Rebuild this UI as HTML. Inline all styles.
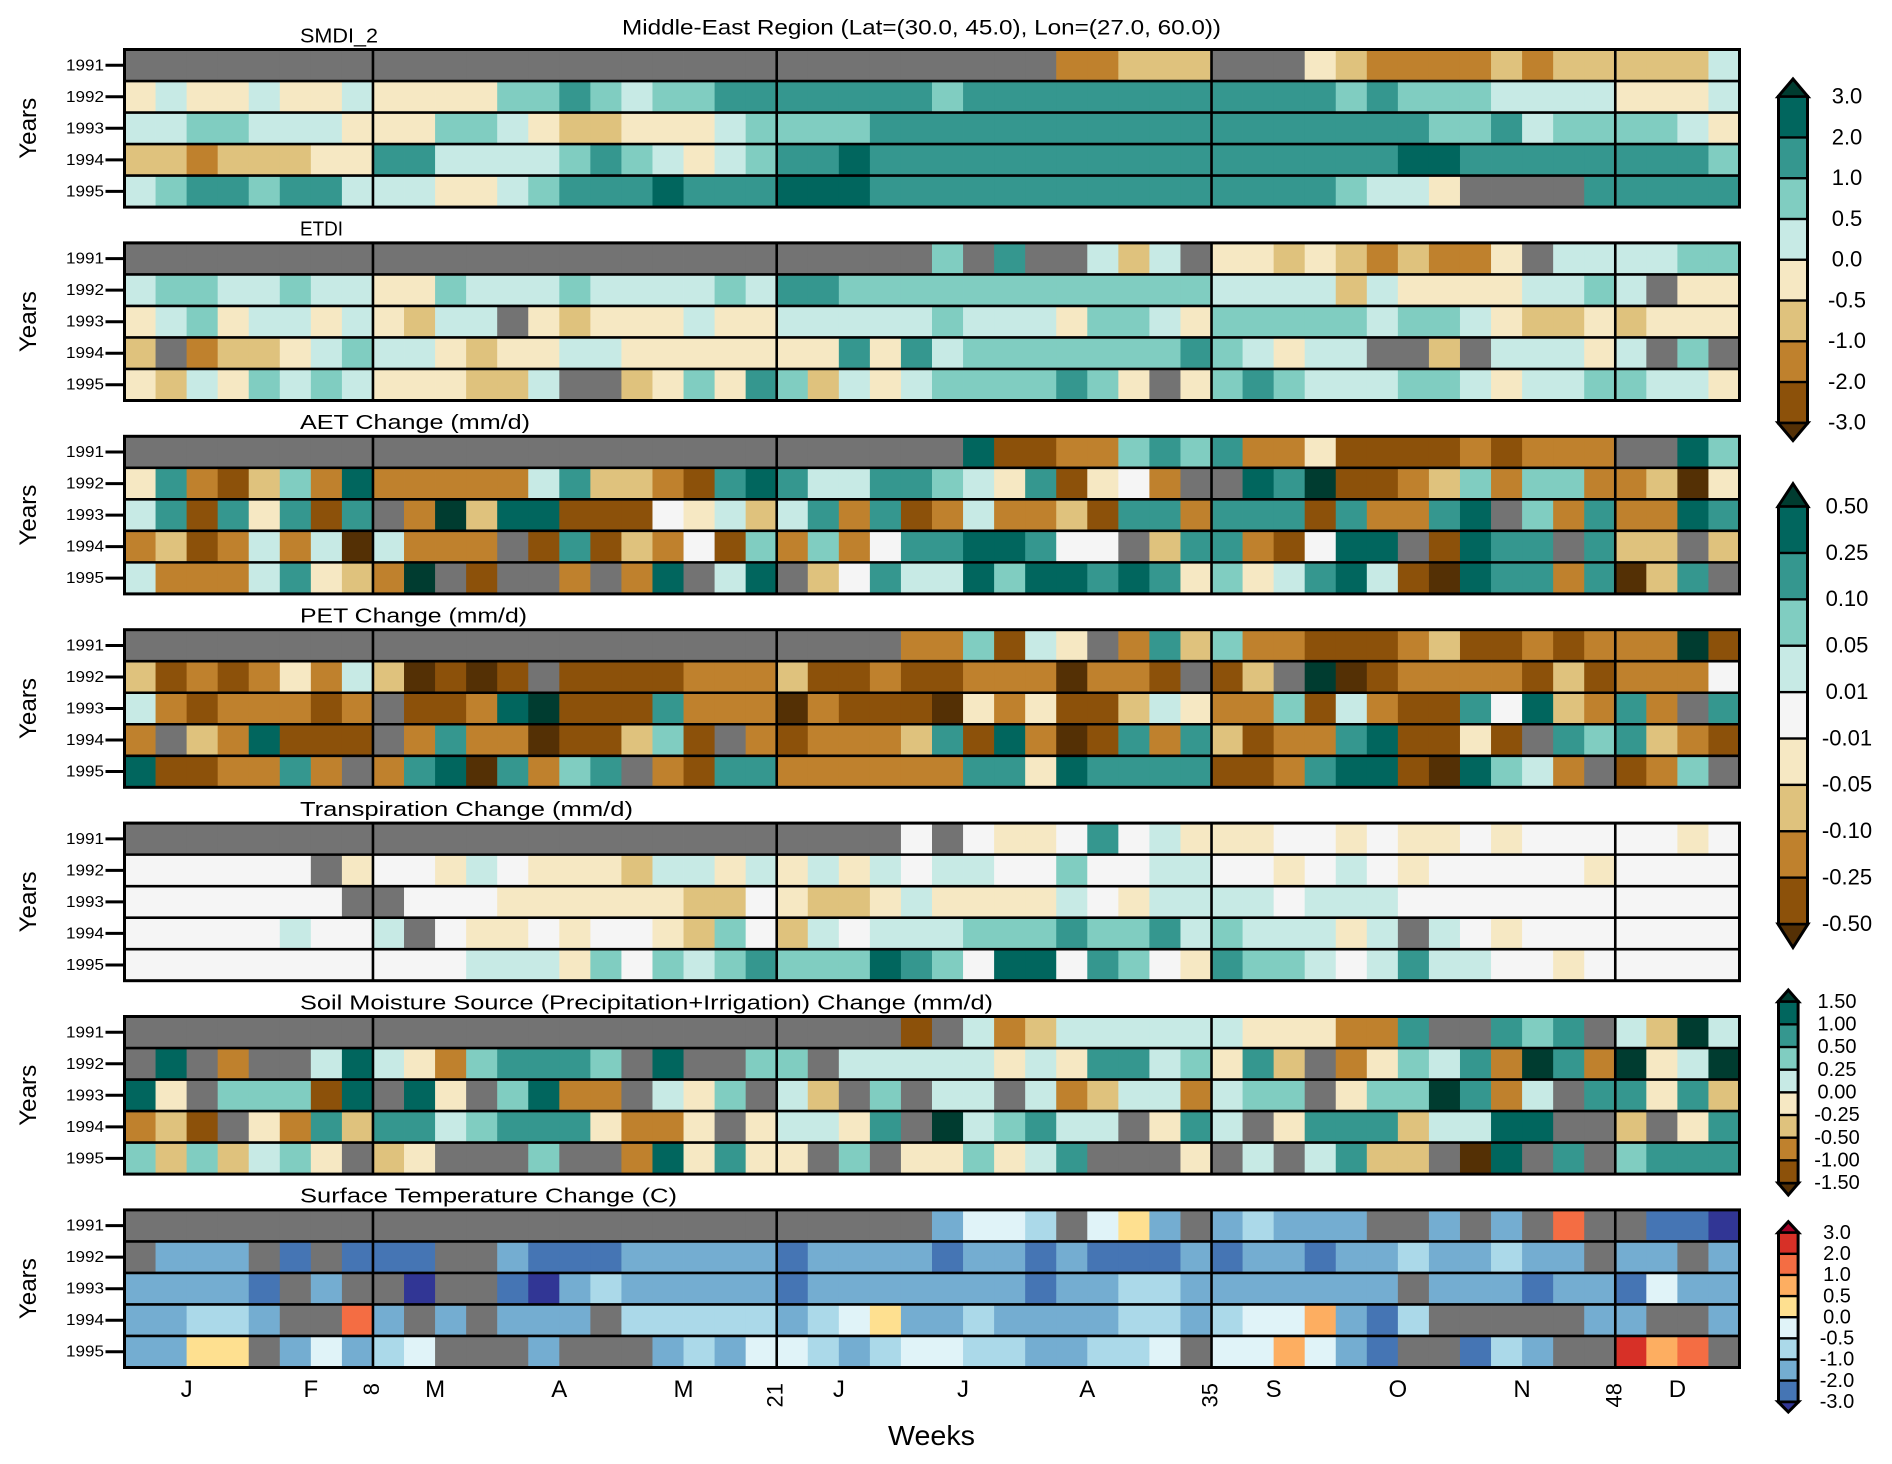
<!DOCTYPE html>
<html>
<head>
<meta charset="utf-8">
<title>Middle-East Region</title>
<style>
html,body{margin:0;padding:0;background:#fff}
svg{display:block}
text{font-family:"Liberation Sans",sans-serif;fill:#000}
</style>
</head>
<body>
<svg id="chart" xmlns="http://www.w3.org/2000/svg" width="1892" height="1464" viewBox="0 0 1892 1464">
<rect x="0" y="0" width="1892" height="1464" fill="#fff"/>
<g id="cells"></g>
<g id="frames"></g>
<g id="labels"></g>
<g id="bars"></g>
<text x="622" y="34.5" font-size="21" textLength="599" lengthAdjust="spacingAndGlyphs">Middle-East Region (Lat=(30.0, 45.0), Lon=(27.0, 60.0))</text>
<text x="300" y="42.3" font-size="20" textLength="78" lengthAdjust="spacingAndGlyphs">SMDI_2</text>
<text x="300" y="235.7" font-size="20" textLength="43" lengthAdjust="spacingAndGlyphs">ETDI</text>
<text x="300" y="429.1" font-size="20" textLength="230" lengthAdjust="spacingAndGlyphs">AET Change (mm/d)</text>
<text x="300" y="622.5" font-size="20" textLength="227" lengthAdjust="spacingAndGlyphs">PET Change (mm/d)</text>
<text x="300" y="815.9" font-size="20" textLength="333" lengthAdjust="spacingAndGlyphs">Transpiration Change (mm/d)</text>
<text x="300" y="1009.3" font-size="20" textLength="693" lengthAdjust="spacingAndGlyphs">Soil Moisture Source (Precipitation+Irrigation) Change (mm/d)</text>
<text x="300" y="1202.7" font-size="20" textLength="377" lengthAdjust="spacingAndGlyphs">Surface Temperature Change (C)</text>
<text transform="translate(36,128.3) rotate(-90)" text-anchor="middle" font-size="24" textLength="61" lengthAdjust="spacingAndGlyphs">Years</text>
<text transform="translate(36,321.7) rotate(-90)" text-anchor="middle" font-size="24" textLength="61" lengthAdjust="spacingAndGlyphs">Years</text>
<text transform="translate(36,515.1) rotate(-90)" text-anchor="middle" font-size="24" textLength="61" lengthAdjust="spacingAndGlyphs">Years</text>
<text transform="translate(36,708.5) rotate(-90)" text-anchor="middle" font-size="24" textLength="61" lengthAdjust="spacingAndGlyphs">Years</text>
<text transform="translate(36,901.9) rotate(-90)" text-anchor="middle" font-size="24" textLength="61" lengthAdjust="spacingAndGlyphs">Years</text>
<text transform="translate(36,1095.3) rotate(-90)" text-anchor="middle" font-size="24" textLength="61" lengthAdjust="spacingAndGlyphs">Years</text>
<text transform="translate(36,1288.7) rotate(-90)" text-anchor="middle" font-size="24" textLength="61" lengthAdjust="spacingAndGlyphs">Years</text>
<text x="888" y="1445" font-size="28" textLength="87" lengthAdjust="spacingAndGlyphs">Weeks</text>
</svg>
<script>
const n = null;
// Tick labels and categories
const years = [1991, 1992, 1993, 1994, 1995];
const monthLabels = ['J','F','M','A','M','J','J','A','S','O','N','D'];
const monthCentreWeeks = [2,6,10,14,18,23,27,31,37,41,45,50];
const weekTicks = [8,21,35,48];
const weekCount = 52;

// Cell values are the colour-class index (n = no data).
const smdi1991 = [n,n,n,n,n,n,n,n, n,n,n,n,n,n,n,n,n,n,n,n,n, n,n,n,n,n,n,n,n,n,2,2,3,3,3, n,n,n,4,3,2,2,2,2,3,2,3,3, 3,3,3,6];
const smdi1992 = [4,6,4,4,6,4,4,6, 4,4,4,4,7,7,8,7,6,7,7,8,8, 8,8,8,8,8,7,8,8,8,8,8,8,8,8, 8,8,8,8,7,8,7,7,7,6,6,6,6, 4,4,4,6];
const smdi1993 = [6,6,7,7,6,6,6,4, 4,4,7,7,6,4,3,3,4,4,4,6,7, 7,7,7,8,8,8,8,8,8,8,8,8,8,8, 8,8,8,8,8,8,8,7,7,8,6,7,7, 7,7,6,4];
const smdi1994 = [3,3,2,3,3,3,4,4, 8,8,6,6,6,6,7,8,7,6,4,6,7, 8,8,9,8,8,8,8,8,8,8,8,8,8,8, 8,8,8,8,8,8,9,9,8,8,8,8,8, 8,8,8,7];
const smdi1995 = [6,7,8,8,7,8,8,6, 6,6,4,4,6,7,8,8,8,9,8,8,8, 9,9,9,8,8,8,8,8,8,8,8,8,8,8, 8,8,8,8,7,6,6,4,n,n,n,n,8, 8,8,8,8];

const etdi1991 = [n,n,n,n,n,n,n,n, n,n,n,n,n,n,n,n,n,n,n,n,n, n,n,n,n,n,7,n,8,n,n,6,3,6,n, 4,4,3,4,3,2,3,2,2,4,n,6,6, 6,6,7,7];
const etdi1992 = [6,7,7,6,6,7,6,6, 4,4,7,6,6,6,7,6,6,6,6,7,6, 8,8,7,7,7,7,7,7,7,7,7,7,7,7, 6,6,6,6,3,6,4,4,4,4,6,6,7, 6,n,4,4];
const etdi1993 = [4,6,7,4,6,6,4,6, 4,3,6,6,n,4,3,4,4,4,6,4,4, 6,6,6,6,6,7,6,6,6,4,7,7,6,4, 7,7,7,7,7,6,7,7,6,4,3,3,4, 3,4,4,4];
const etdi1994 = [3,n,2,3,3,4,6,7, 6,6,4,3,4,4,6,6,4,4,4,4,4, 4,4,8,4,8,6,7,7,7,7,7,7,7,8, 7,6,4,6,6,n,n,3,n,6,6,6,4, 6,n,7,n];
const etdi1995 = [4,3,6,4,7,6,7,6, 4,4,4,3,3,6,n,n,3,4,7,4,8, 7,3,6,4,6,7,7,7,7,8,7,4,n,4, 7,8,7,6,6,6,7,7,6,4,6,6,7, 7,6,6,4];

const aet1991 = [n,n,n,n,n,n,n,n, n,n,n,n,n,n,n,n,n,n,n,n,n, n,n,n,n,n,n,9,1,1,2,2,7,8,7, 8,2,2,4,1,1,1,1,2,1,2,2,2, n,n,9,7];
const aet1992 = [4,8,2,1,3,7,2,9, 2,2,2,2,2,6,8,3,3,2,1,8,9, 8,6,6,8,8,7,6,4,8,1,4,5,2,n, n,9,8,10,1,1,2,3,7,2,7,7,2, 2,3,0,4];
const aet1993 = [6,8,1,8,4,8,1,8, n,2,10,3,9,9,1,1,1,5,4,6,3, 6,8,2,8,1,2,6,2,2,3,1,8,8,2, 8,8,8,1,8,2,2,8,9,n,7,2,8, 2,2,9,8];
const aet1994 = [2,3,1,2,6,2,6,0, 6,2,2,2,n,1,8,1,3,2,5,1,7, 2,7,2,5,8,8,9,9,8,5,5,n,3,8, 8,2,1,5,9,9,n,1,9,8,8,n,8, 3,3,n,3];
const aet1995 = [6,2,2,2,6,8,4,3, 2,10,n,1,n,n,2,n,2,9,n,6,9, n,3,5,8,6,6,9,7,9,9,8,9,8,4, 7,4,6,8,9,6,1,0,9,8,8,2,8, 0,3,8,n];

const pet1991 = [n,n,n,n,n,n,n,n, n,n,n,n,n,n,n,n,n,n,n,n,n, n,n,n,n,2,2,7,1,6,4,n,2,8,3, 7,2,2,1,1,1,2,3,1,1,2,1,2, 2,2,10,1];
const pet1992 = [3,1,2,1,2,4,2,6, 3,0,1,0,1,n,1,1,1,1,2,2,2, 3,1,1,2,1,1,2,2,2,0,2,2,1,n, 1,3,n,10,0,1,2,2,2,2,1,3,1, 2,2,2,5];
const pet1993 = [6,2,1,2,2,2,1,2, n,1,1,2,9,10,1,1,1,8,2,2,2, 0,2,1,1,1,0,4,2,4,1,1,3,6,4, 2,2,7,1,6,2,1,1,8,5,9,3,2, 8,2,n,8];
const pet1994 = [2,n,3,2,9,1,1,1, n,2,8,2,2,0,1,1,3,7,1,n,2, 1,2,2,2,3,8,1,9,2,0,1,8,2,8, 3,1,2,2,8,9,1,1,4,1,n,8,7, 8,3,2,1];
const pet1995 = [9,1,1,2,2,8,2,n, 2,8,9,0,8,2,7,8,n,2,1,8,8, 2,2,2,2,2,2,8,8,4,9,8,8,8,8, 1,1,2,8,9,9,1,0,9,7,6,2,n, 1,2,7,n];

const transp1991 = [n,n,n,n,n,n,n,n, n,n,n,n,n,n,n,n,n,n,n,n,n, n,n,n,n,5,n,5,4,4,5,8,5,6,4, 4,4,5,5,4,5,4,4,5,4,5,5,5, 5,5,4,5];
const transp1992 = [5,5,5,5,5,5,n,4, 5,5,4,6,5,4,4,4,3,6,6,4,6, 4,6,4,6,5,6,6,5,5,7,5,5,6,6, 5,5,4,5,6,5,4,5,5,5,5,5,4, 5,5,5,5];
const transp1993 = [5,5,5,5,5,5,5,n, n,5,5,5,4,4,4,4,4,4,3,3,5, 4,3,3,4,6,4,4,4,4,6,5,4,6,6, 6,6,5,6,6,6,5,5,5,5,5,5,5, 5,5,5,5];
const transp1994 = [5,5,5,5,5,6,5,5, 6,n,5,4,4,5,4,5,5,4,3,7,5, 3,6,5,6,6,6,7,7,7,8,7,7,8,6, 7,6,6,6,4,6,n,6,5,4,5,5,5, 5,5,5,5];
const transp1995 = [5,5,5,5,5,5,5,5, 5,5,5,6,6,6,4,7,5,7,6,7,8, 7,7,7,9,8,7,5,9,9,5,8,7,5,4, 8,7,7,6,5,6,8,6,6,5,5,4,5, 5,5,5,5];

const soil1991 = [n,n,n,n,n,n,n,n, n,n,n,n,n,n,n,n,n,n,n,n,n, n,n,n,n,1,n,6,2,3,6,6,6,6,6, 6,4,4,4,2,2,8,n,n,8,7,8,n, 6,3,10,6];
const soil1992 = [n,9,n,2,n,n,6,9, 6,4,2,7,8,8,8,7,n,9,n,n,7, 7,n,6,6,6,6,6,4,6,4,8,8,6,7, 4,8,3,n,2,4,7,6,8,2,10,8,2, 10,4,6,10];
const soil1993 = [9,4,n,7,7,7,1,9, n,9,4,n,7,9,2,2,n,6,4,7,n, 6,3,n,7,n,6,6,n,6,2,3,6,6,2, 6,7,7,n,4,7,7,10,8,2,6,n,8, 8,4,8,3];
const soil1994 = [2,3,1,n,4,2,8,3, 8,8,6,7,8,8,8,4,2,2,4,n,4, 6,6,4,8,n,10,6,7,8,6,6,n,4,8, 6,n,4,8,8,8,3,6,6,9,9,n,n, 3,n,4,8];
const soil1995 = [7,3,7,3,6,7,4,n, 3,4,n,n,n,7,n,n,2,9,4,8,4, 4,n,7,n,4,4,7,4,6,8,n,n,n,4, n,6,n,6,8,3,3,n,0,9,n,8,n, 7,8,8,8];

const temp1991 = [n,n,n,n,n,n,n,n, n,n,n,n,n,n,n,n,n,n,n,n,n, n,n,n,n,n,2,4,4,3,n,4,5,2,n, 2,3,2,2,2,n,n,2,n,2,n,7,n, n,1,1,0];
const temp1992 = [n,2,2,2,n,1,n,1, 1,1,n,n,2,1,1,1,2,2,2,2,2, 1,2,2,2,2,1,2,2,1,2,1,1,1,2, 1,2,2,1,2,2,3,2,2,3,2,2,n, 2,2,n,2];
const temp1993 = [2,2,2,2,1,n,2,n, n,0,n,n,1,0,2,3,2,2,2,2,2, 1,2,2,2,2,2,2,2,1,2,2,3,3,2, 2,2,2,2,2,2,n,2,2,2,1,2,2, 1,4,2,2];
const temp1994 = [2,2,3,3,2,n,n,7, 2,n,2,n,2,2,2,n,3,3,3,3,3, 2,3,4,5,2,2,3,2,2,2,2,3,3,2, 3,4,4,6,2,1,3,n,n,n,n,n,2, 2,n,n,2];
const temp1995 = [2,2,5,5,n,2,4,2, 3,4,n,n,n,2,n,n,n,2,3,2,4, 4,3,2,3,4,4,3,3,2,2,3,3,4,n, 4,4,6,4,2,1,n,n,1,3,2,n,n, 8,6,7,n];

// Colour scales
const brownTeal = ['#543005','#8c510a','#bf812d','#dfc27d','#f6e8c3','#f5f5f5','#c7eae5','#80cdc1','#35978f','#01665e','#003c30'];
const redBlue = ['#313695','#4575b4','#74add1','#abd9e9','#e0f3f8','#fee090','#fdae61','#f46d43','#d73027','#a50026'];
const missingColour = '#737373';

// Colorbar tick labels and the colour classes they separate (top to bottom)
const barTicksA = ['3.0','2.0','1.0','0.5','0.0','-0.5','-1.0','-2.0','-3.0'];
const barClassesA = [10,9,8,7,6,4,3,2,1,0];
const barTicksB = ['0.50','0.25','0.10','0.05','0.01','-0.01','-0.05','-0.10','-0.25','-0.50'];
const barClassesB = [10,9,8,7,6,5,4,3,2,1,0];
const barTicksC = ['1.50','1.00','0.50','0.25','0.00','-0.25','-0.50','-1.00','-1.50'];
const barClassesC = [10,9,8,7,6,4,3,2,1,0];
const barTicksD = ['3.0','2.0','1.0','0.5','0.0','-0.5','-1.0','-2.0','-3.0'];
const barClassesD = [9,8,7,6,5,4,3,2,1,0];

const panelRows = [
  [smdi1991,smdi1992,smdi1993,smdi1994,smdi1995],
  [etdi1991,etdi1992,etdi1993,etdi1994,etdi1995],
  [aet1991,aet1992,aet1993,aet1994,aet1995],
  [pet1991,pet1992,pet1993,pet1994,pet1995],
  [transp1991,transp1992,transp1993,transp1994,transp1995],
  [soil1991,soil1992,soil1993,soil1994,soil1995],
  [temp1991,temp1992,temp1993,temp1994,temp1995]
];
const panelNames = ['smdi','etdi','aet','pet','transpiration','soil-moisture','temperature'];
const panelScales = [brownTeal,brownTeal,brownTeal,brownTeal,brownTeal,brownTeal,redBlue];

const NS = 'http://www.w3.org/2000/svg';
const plotLeft = 124.5, plotRight = 1739.5, plotTop = 49.5, panelStep = 193.4, panelHeight = 157.6;
function xWeek(w){ return plotLeft + (plotRight - plotLeft) * w / weekCount; }
function panelTop(p){ return plotTop + panelStep * p; }
function yRow(p, r){ return panelTop(p) + panelHeight * r / years.length; }
function make(tag, parent, attrs){
  const el = document.createElementNS(NS, tag);
  for (const k in attrs) el.setAttribute(k, attrs[k]);
  parent.appendChild(el);
  return el;
}
const cellsG = document.getElementById('cells');
const framesG = document.getElementById('frames');
const labelsG = document.getElementById('labels');
const barsG = document.getElementById('bars');

panelRows.forEach(function(rows, p){
  const scale = panelScales[p];
  rows.forEach(function(values, r){
    values.forEach(function(v, w){
      const cell = make('rect', cellsG, {
        x: xWeek(w), y: yRow(p, r),
        width: xWeek(w + 1) - xWeek(w) + 0.4, height: yRow(p, r + 1) - yRow(p, r) + 0.4,
        fill: v === null ? missingColour : scale[v]
      });
      
      
    });
    const yc = (yRow(p, r) + yRow(p, r + 1)) / 2;
    const tick = make('line', framesG, {x1: 105.5, x2: plotLeft, y1: yc, y2: yc, stroke: '#000', 'stroke-width': 3});
    
    
    const lab = make('text', labelsG, {x: 104, y: yc + 5, 'text-anchor': 'end', 'font-size': 16, textLength: 38, lengthAdjust: 'spacingAndGlyphs'});
    lab.textContent = String(years[r]);
    
    
    if (r > 0) {
      const sep = make('line', framesG, {x1: plotLeft, x2: plotRight, y1: yRow(p, r), y2: yRow(p, r), stroke: '#000', 'stroke-width': 2.6});
      
      
    }
  });
  weekTicks.forEach(function(w){
    const v = make('line', framesG, {x1: xWeek(w), x2: xWeek(w), y1: panelTop(p), y2: panelTop(p) + panelHeight, stroke: '#000', 'stroke-width': 2.6});
    
    
  });
  const frame = make('rect', framesG, {x: plotLeft, y: panelTop(p), width: plotRight - plotLeft, height: panelHeight, fill: 'none', stroke: '#000', 'stroke-width': 3});
  
  
});

monthLabels.forEach(function(m, i){
  const t = make('text', labelsG, {x: xWeek(monthCentreWeeks[i]), y: 1397, 'text-anchor': 'middle', 'font-size': 24});
  t.textContent = m;
  
  
});
weekTicks.forEach(function(w){
  const t = make('text', labelsG, {transform: 'translate(' + (xWeek(w) + 6) + ',1383) rotate(-90)', 'text-anchor': 'end', 'font-size': 22});
  t.textContent = String(w);
  
  
});

function drawBar(ticks, classes, scale, name, cx, half, top, bottom, tipTop, tipBottom, labelX, fontSize){
  const nBins = ticks.length - 1;
  const h = (bottom - top) / nBins;
  const body = make('rect', barsG, {x: cx - half - 3, y: top - 1.5, width: 2 * half + 6, height: bottom - top + 3, fill: '#000'});
  
  
  const up = make('polygon', barsG, {points: (cx - half - 2) + ',' + top + ' ' + cx + ',' + tipTop + ' ' + (cx + half + 2) + ',' + top, fill: scale[classes[0]], stroke: '#000', 'stroke-width': 3, 'stroke-linejoin': 'miter'});
  
  
  const down = make('polygon', barsG, {points: (cx - half - 2) + ',' + bottom + ' ' + cx + ',' + tipBottom + ' ' + (cx + half + 2) + ',' + bottom, fill: scale[classes[classes.length - 1]], stroke: '#000', 'stroke-width': 3, 'stroke-linejoin': 'miter'});
  
  
  for (let i = 0; i < nBins; i++) {
    const b = make('rect', barsG, {x: cx - half, y: top + h * i + 1.2, width: 2 * half, height: h - 2.4, fill: scale[classes[i + 1]]});
    
    
  }
  ticks.forEach(function(label, i){
    const t = make('text', barsG, {x: labelX, y: top + h * i + fontSize * 0.31, 'text-anchor': 'middle', 'font-size': fontSize});
    t.textContent = label;
    
    
  });
}
drawBar(barTicksA, barClassesA, brownTeal, 'colorbar-index', 1793, 13, 96.7, 422.8, 79, 440.6, 1847, 22);
drawBar(barTicksB, barClassesB, brownTeal, 'colorbar-flux', 1793, 13, 506.6, 924, 483.7, 947.5, 1847, 22);
drawBar(barTicksC, barClassesC, brownTeal, 'colorbar-soil-moisture', 1788.3, 8.3, 1001.7, 1183, 990, 1195, 1837, 20);
drawBar(barTicksD, barClassesD, redBlue, 'colorbar-temperature', 1788.3, 8.3, 1232.7, 1401.7, 1221.7, 1412, 1837, 20);
</script>
</body>
</html>
